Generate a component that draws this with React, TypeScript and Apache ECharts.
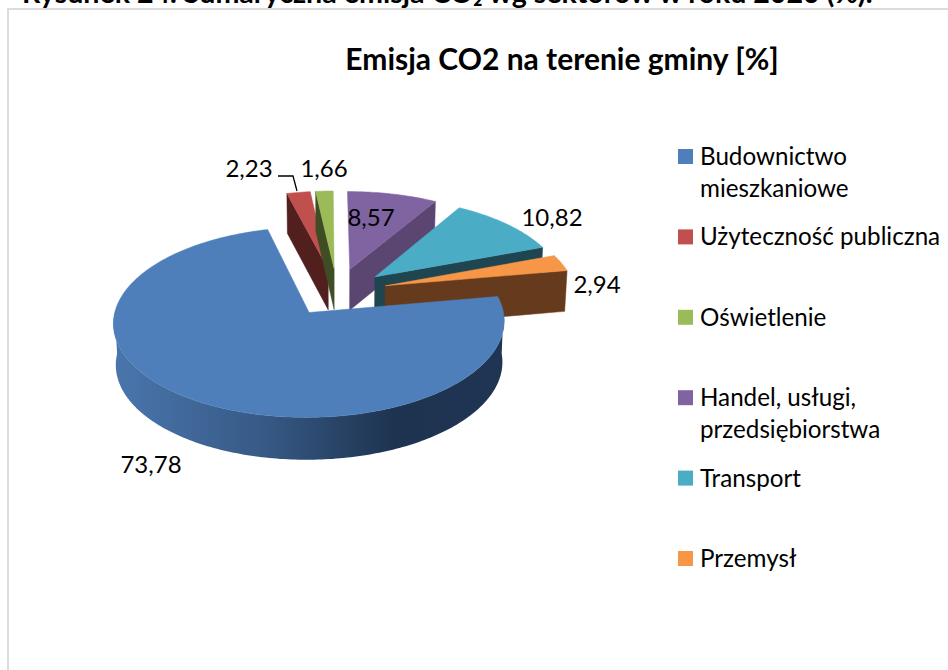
import React, { useEffect, useRef } from "react";
import * as echarts from "echarts";

const categories = [
  "Budownictwo\nmieszkaniowe",
  "Użyteczność publiczna",
  "Oświetlenie",
  "Handel, usługi,\nprzedsiębiorstwa",
  "Transport",
  "Przemysł",
];
const shares = [73.78, 2.23, 1.66, 8.57, 10.82, 2.94];
const topColors = ["#4e7fbb", "#c0504d", "#9bbb59", "#8064a2", "#4bacc6", "#f79646"];
const wallColors = ["#1f3450", "#501f1e", "#3f4d25", "#5a4670", "#1e4550", "#653a1d"];
const heading = "Rysunek 24. Sumaryczna emisja CO₂ wg sektorów w roku 2020 (%).";
const chartTitle = "Emisja CO2 na terenie gminy [%]";

const FONT = "Lato, 'Noto Sans', sans-serif";
const FIRST_ANGLE = 80;
const EXPLODE = 0.265;
const PERSP = 0.1;
const TOP = { cx: 337, cy: 292, a: 190, b: 90 };
const BOTTOM = { cx: 337, cy: 333, a: 188, b: 91 };
const LABEL_FONT = "24px " + FONT;
const labelPos = [
  [151, 463],
  [249, 167],
  [324, 167],
  [371, 216],
  [552, 216],
  [597, 283],
];
const drawOrder = [5, 0, 1, 2, 3, 4];
const rad = (d: number) => (d * Math.PI) / 180;

function project(u: number, v: number, p: typeof TOP) {
  const w = 1 + PERSP * v;
  return [p.cx + (p.a * u) / w, p.cy - (p.b * v) / w];
}

function sliceRange(i: number) {
  const total = shares.reduce((s, x) => s + x, 0);
  const before = shares.slice(0, i).reduce((s, x) => s + x, 0);
  const s = FIRST_ANGLE + (before / total) * 360;
  const e = s + (shares[i] / total) * 360;
  return [s, e];
}

function renderSlice(params: any, api: any) {
  const i = params.dataIndex;
  const [s, e] = sliceRange(i);
  const mid = rad((s + e) / 2);
  const eu = EXPLODE * Math.sin(mid);
  const ev = EXPLODE * Math.cos(mid);
  const rim = (deg: number, lvl: typeof TOP) =>
    project(eu + Math.sin(rad(deg)), ev + Math.cos(rad(deg)), lvl);
  const apex = (lvl: typeof TOP) => project(eu, ev, lvl);
  const z = drawOrder[i] * 10;
  const children: any[] = [];

  const wall = (deg: number) => ({
    type: "polygon",
    z2: z,
    shape: { points: [apex(TOP), rim(deg, TOP), rim(deg, BOTTOM), apex(BOTTOM)] },
    style: { fill: wallColors[i], stroke: wallColors[i], lineWidth: 0.5 },
  });
  if (Math.sin(rad(s)) < -0.02) children.push(wall(s));
  if (Math.sin(rad(e)) > 0.02) children.push(wall(e));

  for (const off of [0, 360]) {
    const a0 = Math.max(s, 90 + off);
    const a1 = Math.min(e, 270 + off);
    if (a1 > a0) {
      const upper: number[][] = [];
      const lower: number[][] = [];
      for (let d = a0; d <= a1 + 0.001; d += 1) {
        upper.push(rim(d, TOP));
        lower.unshift(rim(d, BOTTOM));
      }
      children.push({
        type: "polygon",
        z2: z + 1,
        shape: { points: upper.concat(lower) },
        style: {
          fill: new echarts.graphic.LinearGradient(0, 0, 1, 0, [
            { offset: 0, color: "#4a76ad" },
            { offset: 0.38, color: "#375a86" },
            { offset: 0.72, color: "#1e3350" },
            { offset: 1, color: "#1f3553" },
          ]),
        },
      });
    }
  }

  const top: number[][] = [apex(TOP)];
  for (let d = s; d < e; d += 1) top.push(rim(d, TOP));
  top.push(rim(e, TOP));
  children.push({
    type: "polygon",
    z2: z + 2,
    shape: { points: top },
    style: { fill: topColors[i], stroke: topColors[i], lineWidth: 0.5 },
  });

  const value = api.value(0) as number;
  children.push({
    type: "text",
    z2: 200,
    style: {
      text: value.toFixed(2).replace(".", ","),
      x: labelPos[i][0],
      y: labelPos[i][1],
      font: LABEL_FONT,
      fill: "#000",
      align: "center",
      verticalAlign: "middle",
    },
  });
  return { type: "group", children };
}

export default function App() {
  const ref = useRef<HTMLDivElement>(null);
  useEffect(() => {
    const chart = echarts.init(ref.current!, null, { renderer: "svg" });
    const legendEls: any[] = [];
    categories.forEach((name, i) => {
      const y = 156.5 + i * 80.4;
      legendEls.push({
        type: "rect",
        z: 10,
        shape: { x: 678, y: y - 7.5, width: 15, height: 15 },
        style: { fill: topColors[i] },
      });
      legendEls.push({
        type: "text",
        z: 10,
        style: {
          text: name,
          x: 700,
          y: y - 17,
          font: "24.2px " + FONT,
          lineHeight: 32,
          fill: "#000",
          align: "left",
          verticalAlign: "top",
        },
      });
    });
    chart.setOption({
      animation: false,
      backgroundColor: "#ffffff",
      graphic: [
        {
          type: "polyline",
          z: 1,
          shape: { points: [[948, 9], [8, 9], [8, 670]] },
          style: { stroke: "#dcdcdc", lineWidth: 2, fill: "none" },
        },
        {
          type: "text",
          z: 10,
          style: {
            text: heading,
            x: 22,
            y: 6,
            font: "bold 28.6px " + FONT,
            fill: "#000",
            align: "left",
            verticalAlign: "bottom",
          },
        },
        {
          type: "text",
          z: 10,
          style: {
            text: chartTitle,
            x: 562,
            y: 58,
            font: "bold 30px " + FONT,
            fill: "#000",
            align: "center",
            verticalAlign: "middle",
          },
        },
        {
          type: "polyline",
          z: 10,
          shape: { points: [[278, 176], [293, 176], [297, 191]] },
          style: { stroke: "#000", lineWidth: 1.3, fill: "none" },
        },
        ...legendEls,
      ],
      series: [
        {
          type: "custom",
          coordinateSystem: "none",
          silent: true,
          renderItem: renderSlice,
          data: categories.map((name, i) => ({ name, value: [shares[i]] })),
        },
      ],
    });
    return () => chart.dispose();
  }, []);
  return (
    <div
      ref={ref}
      style={{ position: "fixed", left: 0, top: 0, width: 948, height: 670, background: "#fff" }}
    />
  );
}
